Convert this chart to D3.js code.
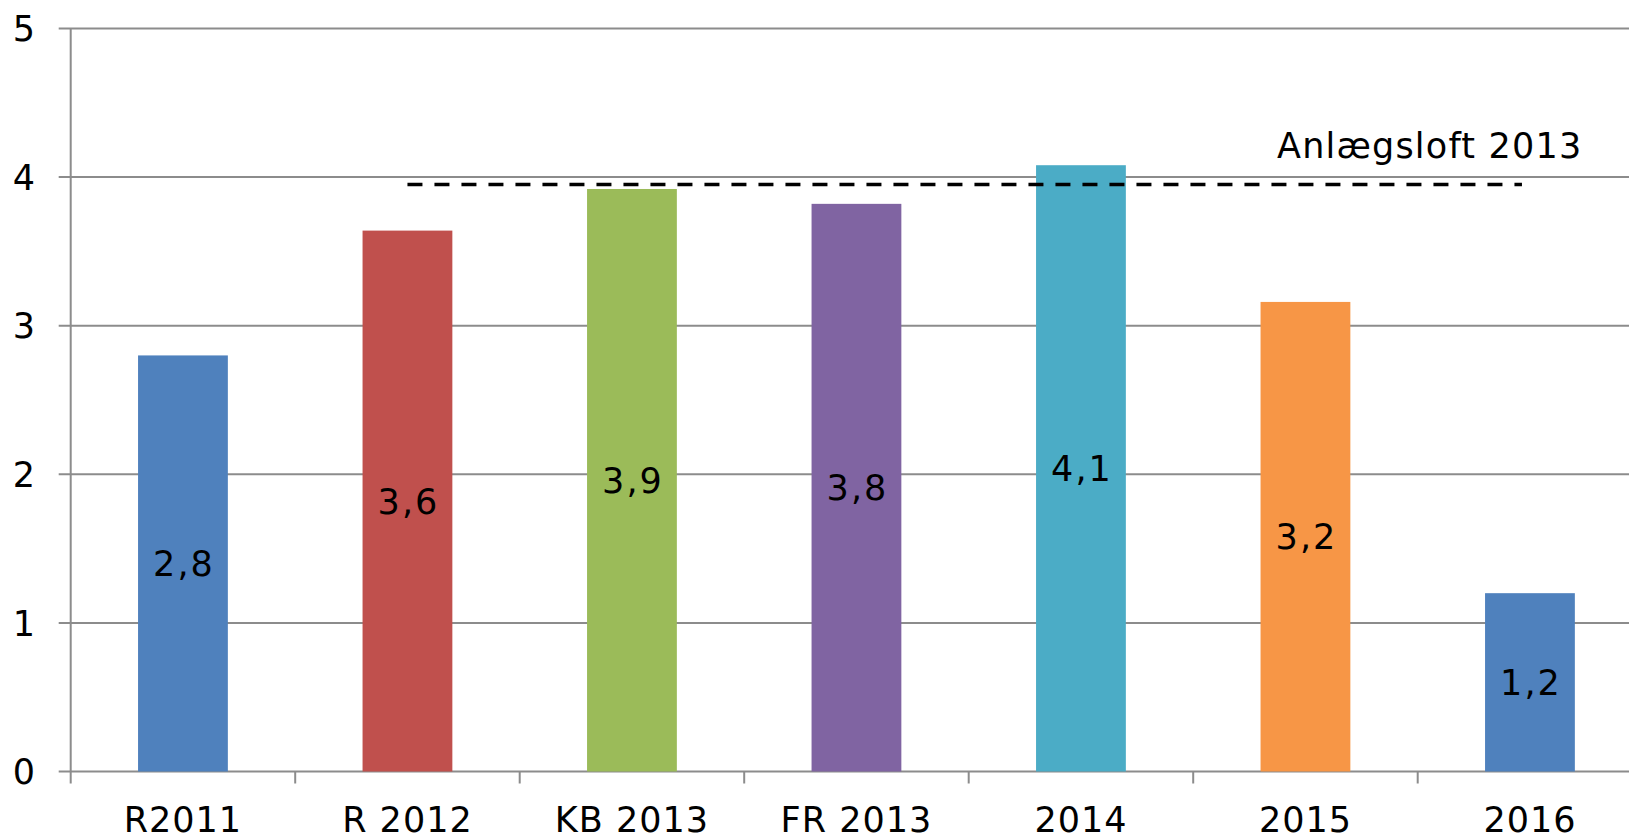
<!DOCTYPE html>
<html><head><meta charset="utf-8">
<script src="https://cdn.jsdelivr.net/npm/d3@7"></script>
<style>html,body{margin:0;padding:0;background:#fff;}svg{display:block;}</style>
</head><body>
<svg id="c" width="1629" height="839"></svg>
<script>
const categories = ["R2011","R 2012","KB 2013","FR 2013","2014","2015","2016"];
const values = [2.8, 3.64, 3.92, 3.82, 4.08, 3.16, 1.2];
const labels = ["2,8","3,6","3,9","3,8","4,1","3,2","1,2"];
const colors = ["#4F81BD","#C0504D","#9BBB59","#8064A2","#4BACC6","#F79646","#4F81BD"];
const yTicks = [0,1,2,3,4,5];
const ceilingValue = 3.95;
const ceilingLabel = "Anlægsloft 2013";
const ceilingFrom = "R 2012", ceilingTo = "2016";

const svg = d3.select("#c");
const font = "'DejaVu Sans', Verdana, sans-serif";
const x0 = 70.7, step = 224.5;
const x = d3.scaleBand().domain(categories).range([x0, x0 + step*categories.length]).padding(0);
const y = d3.scaleLinear().domain([0,5]).range([771.5, 28.5]);
const grid = "#8c8c8c";

// gridlines
svg.append("g").selectAll("line").data(yTicks).join("line")
  .attr("x1", x0 - 12).attr("x2", 1629)
  .attr("y1", d => y(d)).attr("y2", d => y(d))
  .attr("stroke", grid).attr("stroke-width", 2);
// y axis line
svg.append("line").attr("x1", x0).attr("x2", x0).attr("y1", y(5)).attr("y2", y(0)+12)
  .attr("stroke", grid).attr("stroke-width", 2);
// category ticks
svg.append("g").selectAll("line").data(categories.slice(1)).join("line")
  .attr("x1", d => x(d)).attr("x2", d => x(d))
  .attr("y1", y(0)).attr("y2", y(0)+12)
  .attr("stroke", grid).attr("stroke-width", 2);
// y labels
svg.append("g").selectAll("text").data(yTicks).join("text")
  .attr("x", 35).attr("y", d => y(d)).attr("dy", "0.36em")
  .attr("text-anchor", "end").attr("font-family", font).attr("font-size", 35)
  .attr("fill", "#000").text(d => d);
// x labels
svg.append("g").selectAll("text").data(categories).join("text")
  .attr("x", d => x(d) + x.bandwidth()/2).attr("y", 832)
  .attr("text-anchor", "middle").attr("font-family", font).attr("font-size", 35)
  .attr("letter-spacing", 1)
  .attr("fill", "#000").text(d => d);
// bars
const bw = x.bandwidth()*0.4;
svg.append("g").selectAll("rect").data(values).join("rect")
  .attr("x", (d,i) => x(categories[i]) + x.bandwidth()/2 - bw/2)
  .attr("width", bw)
  .attr("y", d => y(d)).attr("height", d => y(0) - y(d))
  .attr("fill", (d,i) => colors[i]);
// value labels
svg.append("g").selectAll("text").data(values).join("text")
  .attr("x", (d,i) => x(categories[i]) + x.bandwidth()/2 + 1)
  .attr("y", d => (y(d) + y(0))/2).attr("dy", "0.36em")
  .attr("text-anchor", "middle").attr("font-family", font).attr("font-size", 35)
  .attr("letter-spacing", 2)
  .attr("fill", "#000").text((d,i) => labels[i]);
// ceiling dashed line
svg.append("line")
  .attr("x1", x(ceilingFrom) + x.bandwidth()/2)
  .attr("x2", x(ceilingTo) + x.bandwidth()/2 - 8)
  .attr("y1", y(ceilingValue)).attr("y2", y(ceilingValue))
  .attr("stroke", "#000").attr("stroke-width", 3.5).attr("stroke-dasharray", "15,12");
svg.append("text").attr("x", 1277).attr("y", 158)
  .attr("font-family", font).attr("font-size", 35).attr("letter-spacing", 1.2)
  .attr("fill", "#000").text(ceilingLabel);
</script>
</body></html>
